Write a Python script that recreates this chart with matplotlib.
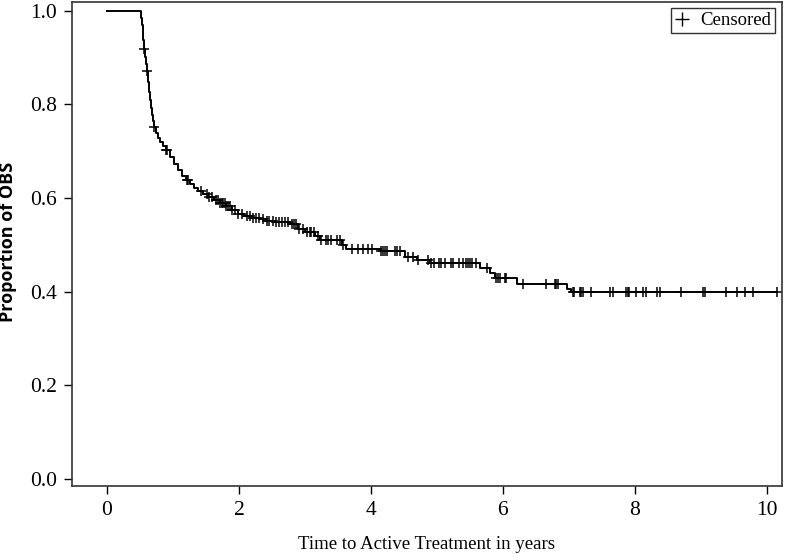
import numpy as np
import matplotlib
matplotlib.use("Agg")
import matplotlib.pyplot as plt
from matplotlib.lines import Line2D

# ── Kaplan-Meier curve ──────────────────────────────────────
step_times = [0.00, 0.515, 0.53, 0.545, 0.56, 0.576, 0.59, 0.606, 0.62, 0.636,
              0.65, 0.667, 0.68, 0.697, 0.712, 0.74, 0.77, 0.80, 0.85, 0.89,
              0.955, 1.015, 1.076, 1.14, 1.20, 1.26, 1.32, 1.38, 1.45, 1.53,
              1.62, 1.71, 1.80, 1.89, 1.98, 2.08, 2.20, 2.32, 2.41, 2.53,
              2.77, 2.89, 3.00, 3.15, 3.23, 3.56, 3.62, 4.15, 4.52, 4.70,
              4.90, 5.65, 5.80, 5.88, 6.21, 6.97, 7.04, 10.15]
step_surv = [1.000, 0.985, 0.970, 0.938, 0.917, 0.900, 0.885, 0.870, 0.848, 0.827,
             0.810, 0.793, 0.778, 0.765, 0.752, 0.739, 0.729, 0.720, 0.712, 0.703,
             0.688, 0.673, 0.660, 0.647, 0.639, 0.630, 0.622, 0.615, 0.609, 0.603,
             0.596, 0.590, 0.583, 0.575, 0.566, 0.562, 0.558, 0.556, 0.551, 0.549,
             0.545, 0.534, 0.528, 0.519, 0.511, 0.500, 0.491, 0.487, 0.474, 0.467,
             0.462, 0.451, 0.440, 0.429, 0.417, 0.406, 0.400, 0.400]

censor_times = [0.56, 0.61, 0.72, 0.89, 0.91, 1.21, 1.23, 1.42, 1.51, 1.55,
                1.59, 1.66, 1.69, 1.71, 1.74, 1.76, 1.79, 1.81, 1.84, 1.86,
                1.89, 1.94, 1.99, 2.04, 2.12, 2.17, 2.21, 2.26, 2.31, 2.36,
                2.42, 2.46, 2.52, 2.56, 2.60, 2.65, 2.70, 2.75, 2.80, 2.83,
                2.86, 2.91, 2.97, 3.03, 3.07, 3.10, 3.14, 3.20, 3.25, 3.32,
                3.35, 3.39, 3.48, 3.53, 3.58, 3.71, 3.81, 3.88, 3.96, 4.01,
                4.16, 4.19, 4.21, 4.24, 4.36, 4.40, 4.44, 4.56, 4.64, 4.72,
                4.87, 4.91, 4.95, 5.04, 5.06, 5.12, 5.22, 5.25, 5.34, 5.40,
                5.44, 5.47, 5.51, 5.54, 5.59, 5.76, 5.89, 5.93, 5.96, 6.03,
                6.05, 6.30, 6.65, 6.79, 6.81, 6.84, 7.06, 7.08, 7.17, 7.19,
                7.22, 7.33, 7.62, 7.67, 7.86, 7.89, 7.91, 8.02, 8.13, 8.17,
                8.33, 8.38, 8.70, 9.03, 9.06, 9.39, 9.55, 9.67, 9.79, 10.15]

x_ticks = [0, 2, 4, 6, 8, 10]
y_ticks = [0.0, 0.2, 0.4, 0.6, 0.8, 1.0]

# survival value of the curve at each censoring time
idx = np.searchsorted(step_times, censor_times, side="right") - 1
censor_surv = np.array(step_surv)[idx]

serif = ["Liberation Serif", "DejaVu Serif"]

fig = plt.figure(figsize=(7.87, 5.6), dpi=100, facecolor="white")
ax = fig.add_axes([0.0915, 0.132, 0.902, 0.865])

ax.step(step_times, step_surv, where="post", color="black", lw=1.4)
ax.plot(censor_times, censor_surv, linestyle="none", marker="+",
        color="black", markersize=7.5, markeredgewidth=1.1)

ax.set_xlim(-0.53, 10.23)
ax.set_ylim(-0.015, 1.019)
ax.set_xticks(x_ticks)
ax.set_xticklabels([str(v) for v in x_ticks], family=serif, fontsize=15.5)
ax.set_yticks(y_ticks)
ax.set_yticklabels([f"{v:.1f}" for v in y_ticks], family=serif, fontsize=15.5)
ax.tick_params(direction="out", length=6, width=1.0, colors="black", pad=5)

ax.set_xlabel("Time to Active Treatment in years", family=serif,
              fontsize=13.5, labelpad=11)
ax.set_ylabel("Proportion of OBS", family=["Open Sans", "DejaVu Sans"],
              fontweight="bold", fontsize=13, labelpad=5)
ax.yaxis.set_label_coords(-0.078, 0.505)

for spine in ax.spines.values():
    spine.set_edgecolor("#333333")
    spine.set_linewidth(1.2)

handle = Line2D([], [], linestyle="none", marker="+", color="black",
                markersize=10, markeredgewidth=1.0)
leg = ax.legend([handle], ["Censored"], loc="upper right",
                prop={"family": serif, "size": 13.5}, frameon=True,
                fancybox=False, borderaxespad=0.35, handlelength=0.8,
                handletextpad=0.6, borderpad=0.2)
leg.get_frame().set_edgecolor("black")
leg.get_frame().set_linewidth(1.0)

fig.savefig("out.png", dpi=100, facecolor="white")
plt.close(fig)
